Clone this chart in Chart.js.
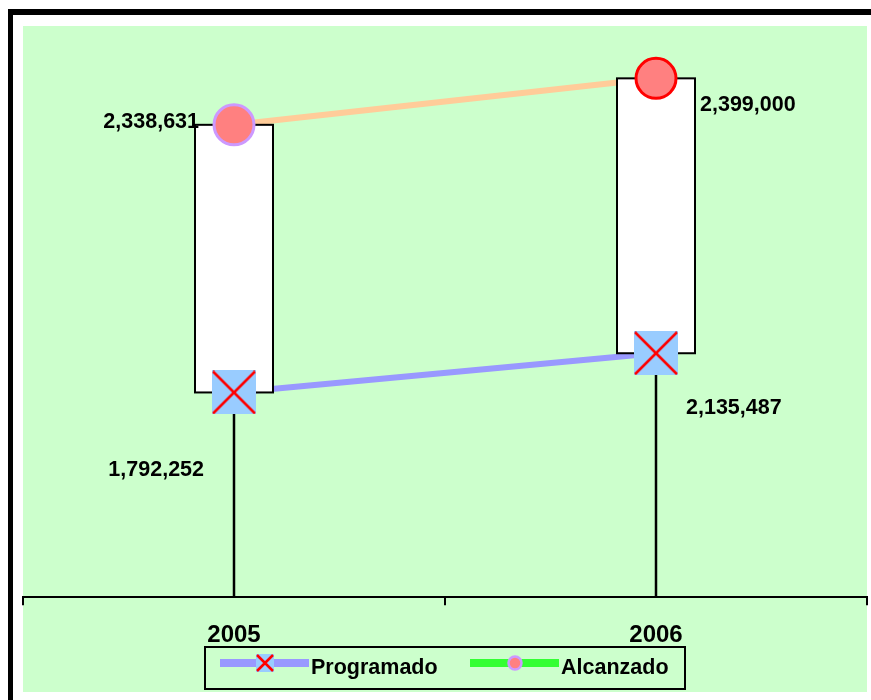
<!DOCTYPE html>
<html>
<head>
<meta charset="utf-8">
<script src="https://cdn.jsdelivr.net/npm/chart.js@4.4.1/dist/chart.umd.min.js"></script>
<style>
  html, body { margin: 0; padding: 0; background: #fff; }
  #wrap { width: 871px; height: 700px; }
</style>
</head>
<body>
<div id="wrap"><canvas id="chart" width="871" height="700"></canvas></div>
<script>
const years = ['2005', '2006'];
const programado = [1792252, 2135487];
const alcanzado = [2338631, 2399000];
const seriesNames = ['Programado', 'Alcanzado'];

const FONT = '"Liberation Sans", Arial, sans-serif';
const GREEN = '#CCFFCC';
const BLUE_LINE = '#9999FF';
const PEACH_LINE = '#FFCC99';
const SQUARE_FILL = '#99CCFF';
const CIRCLE_FILL = '#FF8080';

// light blue square with a red cross, used as the Programado marker
function crossSquare(size) {
  const c = document.createElement('canvas');
  c.width = size;
  c.height = size;
  const g = c.getContext('2d');
  g.fillStyle = SQUARE_FILL;
  g.fillRect(0, 0, size, size);
  g.strokeStyle = '#FF0000';
  g.lineWidth = 2.5;
  g.beginPath();
  g.moveTo(1, 1); g.lineTo(size - 1, size - 1);
  g.moveTo(size - 1, 1); g.lineTo(1, size - 1);
  g.stroke();
  return c;
}

const fmt = v => v.toLocaleString('en-US');

// white background, black frame edges and the green chart panel
const framePlugin = {
  id: 'frame',
  beforeDraw(chart) {
    const { ctx, chartArea: a } = chart;
    ctx.save();
    ctx.fillStyle = '#fff';
    ctx.fillRect(0, 0, chart.width, chart.height);
    ctx.fillStyle = '#000';
    ctx.fillRect(8, 9, 5, chart.height - 9);
    ctx.fillRect(8, 9, chart.width - 8, 6);
    ctx.fillStyle = GREEN;
    ctx.fillRect(a.left, a.top, a.right - a.left, 692 - a.top);
    ctx.restore();
  }
};

// drop lines and up/down boxes between the two series
const upDownPlugin = {
  id: 'upDown',
  beforeDatasetsDraw(chart) {
    const { ctx, chartArea: a } = chart;
    const p = chart.getDatasetMeta(0).data;
    const q = chart.getDatasetMeta(1).data;
    ctx.save();
    ctx.strokeStyle = '#000';
    ctx.lineWidth = 2.5;
    p.forEach((pt, i) => {
      ctx.beginPath();
      ctx.moveTo(pt.x, Math.min(pt.y, q[i].y));
      ctx.lineTo(pt.x, a.bottom);
      ctx.stroke();
    });
    ctx.restore();
  },
  beforeDatasetDraw(chart, args) {
    if (args.index !== 1) return;
    const { ctx } = chart;
    const p = chart.getDatasetMeta(0).data;
    const q = chart.getDatasetMeta(1).data;
    const w = 78;
    ctx.save();
    ctx.fillStyle = '#fff';
    ctx.strokeStyle = '#000';
    ctx.lineWidth = 2;
    p.forEach((pt, i) => {
      const top = Math.min(pt.y, q[i].y);
      const bottom = Math.max(pt.y, q[i].y);
      ctx.fillRect(pt.x - w / 2, top, w, bottom - top);
      ctx.strokeRect(pt.x - w / 2, top, w, bottom - top);
    });
    ctx.restore();
  }
};

// value labels next to each marker
const valueLabels = {
  id: 'valueLabels',
  afterDatasetsDraw(chart) {
    const { ctx } = chart;
    ctx.save();
    ctx.fillStyle = '#000';
    ctx.font = 'bold 21.5px ' + FONT;
    ctx.textBaseline = 'alphabetic';
    [0, 1].forEach(di => {
      const ds = chart.data.datasets[di];
      chart.getDatasetMeta(di).data.forEach((pt, i) => {
        const o = ds.labelPlacement[i];
        ctx.textAlign = o.align;
        ctx.fillText(fmt(ds.data[i]), pt.x + o.dx, pt.y + o.dy);
      });
    });
    ctx.restore();
  }
};

// boxed legend below the axis
const boxLegend = {
  id: 'boxLegend',
  afterDraw(chart) {
    const { ctx, chartArea: a } = chart;
    const cx = (a.left + a.right) / 2;
    const left = cx - 240, top = 647, cy = top + 16;
    ctx.save();
    ctx.strokeStyle = '#000';
    ctx.lineWidth = 2;
    ctx.strokeRect(left, top, 480, 42);

    // Programado
    ctx.fillStyle = BLUE_LINE;
    ctx.fillRect(left + 15, cy - 4, 89, 8);
    ctx.drawImage(crossSquare(18), left + 51, cy - 9);
    // Alcanzado
    ctx.fillStyle = '#33FF33';
    ctx.fillRect(left + 265, cy - 4, 89, 8);
    ctx.beginPath();
    ctx.arc(left + 310, cy, 6.5, 0, Math.PI * 2);
    ctx.fillStyle = CIRCLE_FILL;
    ctx.fill();
    ctx.strokeStyle = '#CC99FF';
    ctx.lineWidth = 2.5;
    ctx.stroke();

    ctx.fillStyle = '#000';
    ctx.font = 'bold 21.5px ' + FONT;
    ctx.textAlign = 'left';
    ctx.textBaseline = 'alphabetic';
    ctx.fillText(seriesNames[0], left + 106, cy + 11);
    ctx.fillText(seriesNames[1], left + 356, cy + 11);
    ctx.restore();
  }
};

new Chart(document.getElementById('chart'), {
  type: 'line',
  data: {
    labels: years,
    datasets: [
      {
        label: seriesNames[0],
        data: programado,
        yAxisID: 'y',
        showLine: false,
        pointStyle: crossSquare(44),
        pointRadius: 22,
        order: 0,
        labelPlacement: [{ align: 'right', dx: -30, dy: 84 }, { align: 'left', dx: 30, dy: 61 }]
      },
      {
        label: seriesNames[1],
        data: alcanzado,
        yAxisID: 'y2',
        showLine: false,
        pointStyle: 'circle',
        pointRadius: 20,
        pointBorderWidth: 3,
        pointBackgroundColor: CIRCLE_FILL,
        pointBorderColor: ['#CC99FF', '#FF0000'],
        order: 0,
        labelPlacement: [{ align: 'right', dx: -35, dy: 3.5 }, { align: 'left', dx: 44, dy: 33 }]
      },
      {
        data: programado,
        yAxisID: 'y',
        borderColor: BLUE_LINE,
        borderWidth: 6,
        pointRadius: 0,
        tension: 0,
        order: 1
      },
      {
        data: alcanzado,
        yAxisID: 'y2',
        borderColor: PEACH_LINE,
        borderWidth: 6,
        pointRadius: 0,
        tension: 0,
        order: 1
      }
    ]
  },
  options: {
    responsive: false,
    animation: false,
    devicePixelRatio: 1,
    clip: false,
    layout: { autoPadding: false, padding: { left: 23, right: 4, top: 26, bottom: 34 } },
    plugins: {
      legend: { display: false },
      tooltip: { enabled: false }
    },
    scales: {
      x: {
        type: 'category',
        offset: true,
        grid: {
          offset: true,
          drawOnChartArea: false,
          drawTicks: true,
          tickLength: 8,
          color: '#000',
          lineWidth: 2
        },
        border: { color: '#000', width: 2 },
        ticks: {
          color: '#000',
          padding: 16,
          font: { family: FONT, size: 24, weight: 'bold' }
        }
      },
      y: { display: false, min: 0, max: 5000000 },
      y2: { display: false, min: 1725000, max: 2467000 }
    }
  },
  plugins: [framePlugin, upDownPlugin, valueLabels, boxLegend]
});
</script>
</body>
</html>
